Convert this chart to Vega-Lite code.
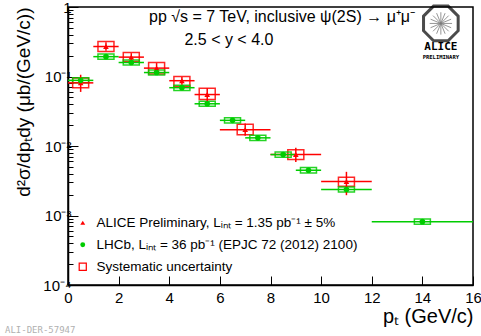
{
  "$schema": "https://vega.github.io/schema/vega-lite/v6.json",
  "width": 405,
  "height": 278,
  "autosize": {"type": "none"},
  "padding": {"left": 68, "top": 7, "right": 8, "bottom": 51},
  "background": "white",
  "config": {
    "view": {"stroke": "black", "strokeWidth": 1.5},
    "font": "Liberation Sans",
    "axis": {"domainColor": "black", "domainWidth": 1.5, "tickColor": "black", "labelColor": "black", "titleColor": "black", "grid": false, "labelFont": "Liberation Sans", "titleFont": "Liberation Sans", "titleFontWeight": "normal", "labelFlush": false, "labelOverlap": false}
  },
  "title": {"text": "ALI-DER-57947", "orient": "bottom", "anchor": "start", "frame": "group", "dx": -63, "offset": 0, "fontSize": 9, "font": "DejaVu Sans Mono", "color": "#b0b0b0", "fontWeight": "normal"},
  "data": {"values": [
    {"exp": "ALICE", "x": 0.5, "xlo": 0, "xhi": 1, "y": 0.081, "ylo": 0.060, "yhi": 0.106, "slo": 0.069, "shi": 0.095},
    {"exp": "ALICE", "x": 1.5, "xlo": 1, "xhi": 2, "y": 0.27, "ylo": 0.235, "yhi": 0.31, "slo": 0.228, "shi": 0.318},
    {"exp": "ALICE", "x": 2.5, "xlo": 2, "xhi": 3, "y": 0.19, "ylo": 0.161, "yhi": 0.217, "slo": 0.164, "shi": 0.221},
    {"exp": "ALICE", "x": 3.5, "xlo": 3, "xhi": 4, "y": 0.132, "ylo": 0.106, "yhi": 0.156, "slo": 0.109, "shi": 0.159},
    {"exp": "ALICE", "x": 4.5, "xlo": 4, "xhi": 5, "y": 0.087, "ylo": 0.076, "yhi": 0.098, "slo": 0.072, "shi": 0.100},
    {"exp": "ALICE", "x": 5.5, "xlo": 5, "xhi": 6, "y": 0.055, "ylo": 0.044, "yhi": 0.068, "slo": 0.0465, "shi": 0.068},
    {"exp": "ALICE", "x": 7, "xlo": 6, "xhi": 8, "y": 0.0172, "ylo": 0.0141, "yhi": 0.021, "slo": 0.0145, "shi": 0.0205},
    {"exp": "ALICE", "x": 9, "xlo": 8, "xhi": 10, "y": 0.00753, "ylo": 0.0059, "yhi": 0.0094, "slo": 0.0064, "shi": 0.0088},
    {"exp": "ALICE", "x": 11, "xlo": 10, "xhi": 12, "y": 0.00309, "ylo": 0.00196, "yhi": 0.00425, "slo": 0.00264, "shi": 0.00356},
    {"exp": "LHCb", "x": 0.5, "xlo": 0, "xhi": 1, "y": 0.088, "slo": 0.081, "shi": 0.096},
    {"exp": "LHCb", "x": 1.5, "xlo": 1, "xhi": 2, "y": 0.193, "slo": 0.177, "shi": 0.210},
    {"exp": "LHCb", "x": 2.5, "xlo": 2, "xhi": 3, "y": 0.159, "slo": 0.146, "shi": 0.173},
    {"exp": "LHCb", "x": 3.5, "xlo": 3, "xhi": 4, "y": 0.114, "slo": 0.105, "shi": 0.124},
    {"exp": "LHCb", "x": 4.5, "xlo": 4, "xhi": 5, "y": 0.069, "slo": 0.063, "shi": 0.075},
    {"exp": "LHCb", "x": 5.5, "xlo": 5, "xhi": 6, "y": 0.0405, "slo": 0.0372, "shi": 0.0441},
    {"exp": "LHCb", "x": 6.5, "xlo": 6, "xhi": 7, "y": 0.0234, "slo": 0.0215, "shi": 0.0255},
    {"exp": "LHCb", "x": 7.5, "xlo": 7, "xhi": 8, "y": 0.0131, "slo": 0.0120, "shi": 0.0143},
    {"exp": "LHCb", "x": 8.5, "xlo": 8, "xhi": 9, "y": 0.00753, "slo": 0.0069, "shi": 0.0082},
    {"exp": "LHCb", "x": 9.5, "xlo": 9, "xhi": 10, "y": 0.00448, "slo": 0.0041, "shi": 0.0049},
    {"exp": "LHCb", "x": 11, "xlo": 10, "xhi": 12, "y": 0.00237, "slo": 0.00217, "shi": 0.00258},
    {"exp": "LHCb", "x": 14, "xlo": 12, "xhi": 16, "y": 0.000815, "slo": 0.00075, "shi": 0.00089}
  ]},
  "layer": [
    {
      "mark": {"type": "bar", "width": 16, "filled": false, "strokeWidth": 1.5, "strokeOpacity": 0.85},
      "encoding": {
        "x": {"field": "x", "type": "quantitative", "scale": {"domain": [0, 16], "nice": false, "zero": false, "padding": 0},
          "axis": {"values": [0,0.5,1,1.5,2,2.5,3,3.5,4,4.5,5,5.5,6,6.5,7,7.5,8,8.5,9,9.5,10,10.5,11,11.5,12,12.5,13,13.5,14,14.5,15,15.5,16],
            "format": "d",
            "labelExpr": "datum.value % 2 === 0 ? datum.label : ''",
            "tickSize": {"condition": {"test": "datum.value % 2 === 0", "value": -9}, "value": -5},
            "labelFontSize": 15, "labelPadding": 14,
            "title": "p\u209C (GeV/c)", "titleAnchor": "end", "titleFontSize": 20, "titlePadding": 1}},
        "y": {"field": "slo", "type": "quantitative", "scale": {"type": "log", "domain": [0.0001, 1], "nice": false, "padding": 0},
          "axis": {"values": [0.0001,0.0002,0.0003,0.0004,0.0005,0.0006,0.0007,0.0008,0.0009,0.001,0.002,0.003,0.004,0.005,0.006,0.007,0.008,0.009,0.01,0.02,0.03,0.04,0.05,0.06,0.07,0.08,0.09,0.1,0.2,0.3,0.4,0.5,0.6,0.7,0.8,0.9,1],
            "labelExpr": "abs(log(datum.value)/LN10 - round(log(datum.value)/LN10)) < 0.001 ? (datum.value > 0.5 ? '1' : '10' + ['\u207B\u00B9','\u207B\u00B2','\u207B\u00B3','\u207B\u2074'][round(-log(datum.value)/LN10) - 1]) : ''",
            "tickSize": {"condition": {"test": "abs(log(datum.value)/LN10 - round(log(datum.value)/LN10)) < 0.001", "value": -10}, "value": -5},
            "labelFontSize": 15, "labelPadding": 7,
            "title": "d\u00B2\u03C3/dp\u209Cdy (\u03BCb/(GeV/c))", "titleAnchor": "end", "titleFontSize": 19, "titlePadding": 9}},
        "y2": {"field": "shi"},
        "color": {"field": "exp", "type": "nominal", "scale": {"domain": ["ALICE", "LHCb", "Syst"], "range": ["#ff0000", "#00cc00", "#ff0000"]}}
      }
    },
    {
      "mark": {"type": "rule", "strokeWidth": 1.5},
      "encoding": {
        "x": {"field": "xlo", "type": "quantitative"},
        "x2": {"field": "xhi"},
        "y": {"field": "y", "type": "quantitative"},
        "color": {"field": "exp", "type": "nominal"}
      }
    },
    {
      "transform": [{"filter": "datum.exp === 'ALICE'"}],
      "mark": {"type": "rule", "strokeWidth": 1.5},
      "encoding": {
        "x": {"field": "x", "type": "quantitative"},
        "y": {"field": "ylo", "type": "quantitative"},
        "y2": {"field": "yhi"},
        "color": {"field": "exp", "type": "nominal"}
      }
    },
    {
      "mark": {"type": "point", "filled": true, "opacity": 1, "size": 32},
      "encoding": {
        "x": {"field": "x", "type": "quantitative"},
        "y": {"field": "y", "type": "quantitative"},
        "color": {"field": "exp", "type": "nominal",
          "legend": {"orient": "none", "legendX": 8, "legendY": 209, "title": null, "labelFontSize": 13.5, "labelFont": "Liberation Sans", "labelColor": "black", "rowPadding": 7, "labelOffset": 7, "symbolSize": 24, "symbolStrokeWidth": 0, "labelLimit": 400,
            "labelExpr": "datum.value === 'ALICE' ? 'ALICE Preliminary, L\u1D62\u2099\u209C = 1.35 pb\u207B\u00B9 \u00B1 5%' : datum.value === 'LHCb' ? 'LHCb, L\u1D62\u2099\u209C = 36 pb\u207B\u00B9 (EPJC 72 (2012) 2100)' : 'Systematic uncertainty'"}},
        "shape": {"field": "exp", "type": "nominal", "scale": {"domain": ["ALICE", "LHCb", "Syst"], "range": ["triangle-up", "circle", "M-1.7,-1.7L1.7,-1.7L1.7,1.7L-1.7,1.7Z M-1.2,-1.2L-1.2,1.2L1.2,1.2L1.2,-1.2Z"]},
          "legend": {"orient": "none", "legendX": 8, "legendY": 209, "title": null, "labelFontSize": 13.5, "labelFont": "Liberation Sans", "labelColor": "black", "rowPadding": 7, "labelOffset": 7, "symbolSize": 24, "symbolStrokeWidth": 0, "labelLimit": 400,
            "labelExpr": "datum.value === 'ALICE' ? 'ALICE Preliminary, L\u1D62\u2099\u209C = 1.35 pb\u207B\u00B9 \u00B1 5%' : datum.value === 'LHCb' ? 'LHCb, L\u1D62\u2099\u209C = 36 pb\u207B\u00B9 (EPJC 72 (2012) 2100)' : 'Systematic uncertainty'"}}
      }
    },
    {
      "data": {"values": [{}]},
      "mark": {"type": "text", "align": "left", "baseline": "middle", "fontSize": 16, "font": "Liberation Sans", "color": "black"},
      "encoding": {"x": {"datum": 3.2}, "y": {"datum": 0.72}, "text": {"value": "pp  \u221As = 7 TeV, inclusive \u03C8(2S) \u2192 \u03BC\u207A\u03BC\u207B"}}
    },
    {
      "data": {"values": [{}]},
      "mark": {"type": "text", "align": "left", "baseline": "middle", "fontSize": 16, "font": "Liberation Sans", "color": "black"},
      "encoding": {"x": {"datum": 4.6}, "y": {"datum": 0.335}, "text": {"value": "2.5 < y < 4.0"}}
    },
    {
      "data": {"values": [{}]},
      "mark": {"type": "point", "shape": "M-1,-0.42L-0.42,-1L0.42,-1L1,-0.42L1,0.42L0.42,1L-0.42,1L-1,0.42Z", "size": 1200, "filled": false, "stroke": "black", "strokeWidth": 3},
      "encoding": {"x": {"datum": 14.73}, "y": {"datum": 0.58}}
    },
    {
      "data": {"values": [{}]},
      "mark": {"type": "point", "shape": "M-1,0L1,0M0,-1L0,1M-0.7,-0.7L0.7,0.7M-0.7,0.7L0.7,-0.7M-0.92,-0.38L0.92,0.38M-0.92,0.38L0.92,-0.38M-0.38,-0.92L0.38,0.92M-0.38,0.92L0.38,-0.92", "size": 500, "filled": false, "stroke": "#444444", "strokeWidth": 0.8},
      "encoding": {"x": {"datum": 14.73}, "y": {"datum": 0.58}}
    },
    {
      "data": {"values": [{}]},
      "mark": {"type": "text", "align": "center", "baseline": "middle", "fontSize": 11, "font": "DejaVu Sans Mono", "fontWeight": "bold", "color": "black"},
      "encoding": {"x": {"datum": 14.73}, "y": {"datum": 0.266}, "text": {"value": "ALICE"}}
    },
    {
      "data": {"values": [{}]},
      "mark": {"type": "text", "align": "center", "baseline": "middle", "fontSize": 5.5, "font": "DejaVu Sans Mono", "fontWeight": "bold", "color": "black"},
      "encoding": {"x": {"datum": 14.73}, "y": {"datum": 0.19}, "text": {"value": "PRELIMINARY"}}
    }
  ]
}
